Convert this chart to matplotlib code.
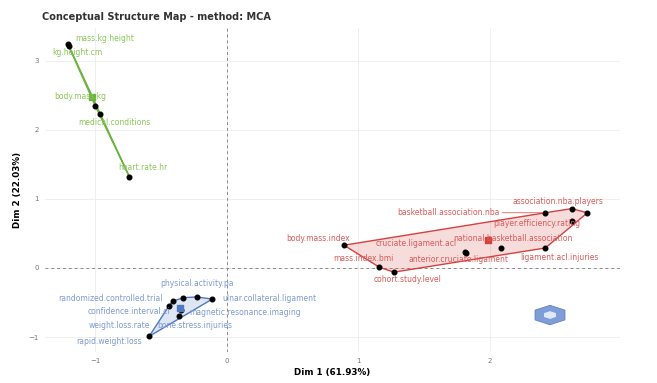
import numpy as np
import matplotlib.pyplot as plt
from matplotlib.patches import Polygon, RegularPolygon

# %%
# MCA coordinates
green_terms = ["mass.kg.height", "kg.height.cm", "body.mass.kg",
               "medical.conditions", "heart.rate.hr"]
green_x = [-1.21, -1.20, -1.00, -0.96, -0.74]
green_y = [3.25, 3.22, 2.35, 2.23, 1.32]

blue_terms = ["physical.activity.pa", "randomized.controlled.trial",
              "ulnar.collateral.ligament", "confidence.interval.ci",
              "magnetic.resonance.imaging", "weight.loss.rate",
              "bone.stress.injuries", "rapid.weight.loss"]
blue_x = [-0.23, -0.41, -0.11, -0.35, -0.36, -0.44, -0.33, -0.59]
blue_y = [-0.42, -0.48, -0.45, -0.61, -0.70, -0.55, -0.43, -0.99]

red_terms = ["body.mass.index", "mass.index.bmi", "cohort.study.level",
             "cruciate.ligament.acl", "anterior.cruciate.ligament",
             "national.basketball.association", "ligament.acl.injuries",
             "basketball.association.nba", "association.nba.players",
             "", "player.efficiency.rating"]
red_x = [0.89, 1.16, 1.27, 1.81, 1.82, 2.08, 2.42, 2.42, 2.62, 2.74, 2.62]
red_y = [0.33, 0.01, -0.06, 0.23, 0.22, 0.29, 0.29, 0.80, 0.86, 0.80, 0.68]

x_ticks = [-1, 0, 1, 2]
y_ticks = [-1, 0, 1, 2, 3]

# label offsets (points) so the text sits like the repelled labels
green_off = [(27, 4), (6, -5), (-11, 6.5), (10, -6), (10, 6.5)]
blue_off = [(0, 9.5), (-45, 2), (41, 0.5), (-37, -1), (47, 3),
            (-36, -14), (8, -20), (-29, -3.5)]
red_off = [(-19, 5), (-11.5, 6.5), (10, -5), (-35, 6.5), (-6, -5),
           (9, 6.5), (10, -6.5), (-70, 0), (-10, 5), (0, 0), (-25, -1.5)]


def hull(xs, ys):
    pts = sorted(set(zip(xs, ys)))
    if len(pts) < 3:
        return pts

    def cross(o, a, b):
        return (a[0]-o[0])*(b[1]-o[1]) - (a[1]-o[1])*(b[0]-o[0])
    lower, upper = [], []
    for p in pts:
        while len(lower) >= 2 and cross(lower[-2], lower[-1], p) <= 0:
            lower.pop()
        lower.append(p)
    for p in reversed(pts):
        while len(upper) >= 2 and cross(upper[-2], upper[-1], p) <= 0:
            upper.pop()
        upper.append(p)
    return lower[:-1] + upper[:-1]


fig = plt.figure(figsize=(6.57, 3.83), dpi=100)
ax = fig.add_axes([0.068, 0.081, 0.876, 0.846])

clusters = [
    (green_terms, green_x, green_y, green_off, "#6DB33F", "#8CC65A"),
    (blue_terms, blue_x, blue_y, blue_off, "#4F78C0", "#7E9AD0"),
    (red_terms, red_x, red_y, red_off, "#D6403F", "#DB5B5A"),
]

for terms, xs, ys, offs, col, tcol in clusters:
    h = hull(xs, ys)
    ax.add_patch(Polygon(h, closed=True, facecolor=col, alpha=0.18,
                         edgecolor="none", zorder=2))
    ax.add_patch(Polygon(h, closed=True, facecolor="none", edgecolor=col,
                         lw=1.0, zorder=3))
    ax.scatter(xs, ys, s=11, color="black", zorder=5)
    ax.scatter([np.mean(xs)], [np.mean(ys)], s=16, marker="s", color=col,
               zorder=6)
    for t, x, y, o in zip(terms, xs, ys, offs):
        if not t:
            continue
        arrow = None
        if abs(o[0]) > 60:
            arrow = dict(arrowstyle="-", color=col, lw=0.5, shrinkA=0,
                         shrinkB=2)
        ax.annotate(t, (x, y), xytext=o, textcoords="offset points",
                    ha="center", va="center", fontsize=5.5, color=tcol,
                    arrowprops=arrow, zorder=7)

ax.axhline(0, color="#8a8a8a", lw=0.7, ls=(0, (3, 3)), zorder=1)
ax.axvline(0, color="#8a8a8a", lw=0.7, ls=(0, (3, 3)), zorder=1)

ax.set_xlim(-1.384, 2.989)
ax.set_ylim(-1.217, 3.478)
ax.set_xticks(x_ticks)
ax.set_yticks(y_ticks)
ax.tick_params(length=0, labelsize=5, labelcolor="#777777", pad=4)
ax.grid(color="#ececec", lw=0.6, zorder=0)
for s in ax.spines.values():
    s.set_visible(False)
ax.set_axisbelow(True)

ax.set_xlabel("Dim 1 (61.93%)", fontsize=6.3, fontweight="bold", labelpad=3)
ax.set_ylabel("Dim 2 (22.03%)", fontsize=6.3, fontweight="bold", labelpad=5)
fig.text(0.064, 0.955, "Conceptual Structure Map - method: MCA",
         fontsize=7, fontweight="bold", color="#333333", va="center")

# little logo in the corner
ax.add_patch(RegularPolygon((0.878, 0.114), numVertices=6, radius=0.03,
                            transform=ax.transAxes, facecolor="#7F9ED8",
                            edgecolor="#5F7FC4", lw=0.6, zorder=4))
ax.add_patch(RegularPolygon((0.878, 0.114), numVertices=6, radius=0.012,
                            transform=ax.transAxes, facecolor="#DDE8F8",
                            edgecolor="none", zorder=5))

fig.savefig("out.png", dpi=100)
